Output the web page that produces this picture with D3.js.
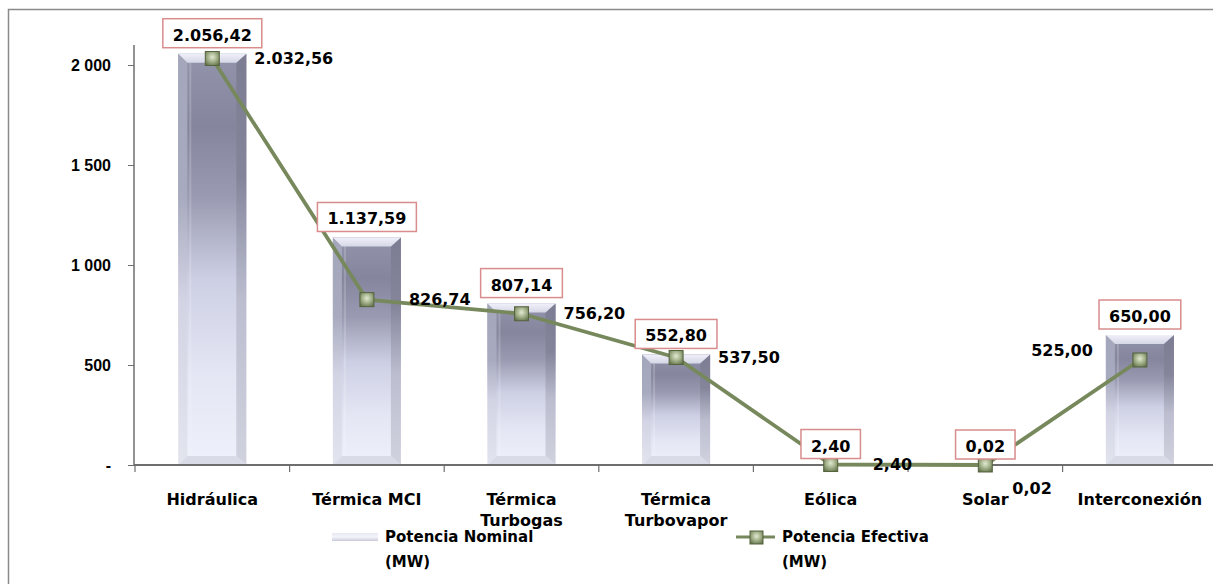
<!DOCTYPE html>
<html>
<head>
<meta charset="utf-8">
<title>Potencia Nominal y Efectiva</title>
<script src="https://d3js.org/d3.v7.min.js"></script>
<style>
  body { margin: 0; background: #fff; }
  svg { display: block; font-family: "DejaVu Sans", Verdana, sans-serif; font-weight: bold; }
</style>
</head>
<body>
<svg width="1213" height="584"></svg>
<script>

// data
var categories = ["Hidráulica", "Térmica MCI", "Térmica Turbogas", "Térmica Turbovapor", "Eólica", "Solar", "Interconexión"];
var categoryLines = [["Hidráulica"], ["Térmica MCI"], ["Térmica", "Turbogas"], ["Térmica", "Turbovapor"], ["Eólica"], ["Solar"], ["Interconexión"]];
var nominal = [2056.42, 1137.59, 807.14, 552.80, 2.40, 0.02, 650.00];
var efectiva = [2032.56, 826.74, 756.20, 537.50, 2.40, 0.02, 525.00];
var yTicks = [0, 500, 1000, 1500, 2000];
// where the value of the line sits relative to its marker
var lineLabelSide = ["right", "right", "right", "right", "right", "below", "left"];

var svg = d3.select("svg"),
    width = +svg.attr("width"),
    height = +svg.attr("height");

var es = d3.formatLocale({decimal: ",", thousands: ".", grouping: [3], currency: ["", ""]});
var fmt = es.format(",.2f");

var x = d3.scaleBand()
    .domain(categories)
    .range([135, 135 + 7 * 154.6]);

var y = d3.scaleLinear()
    .domain([0, 2000])
    .range([465, 65]);

var barW = 68;

// gradients for the bevelled bars
var defs = svg.append("defs");
function vgrad(id, stops) {
  var g = defs.append("linearGradient").attr("id", id)
      .attr("x1", 0).attr("y1", 0).attr("x2", 0).attr("y2", 1);
  stops.forEach(function(s) {
    g.append("stop").attr("offset", s[0]).attr("stop-color", s[1]);
  });
}
vgrad("panel", [[0, "#9294ab"], [0.18, "#85869d"], [0.35, "#9a9bb2"], [0.55, "#cdd0e4"], [0.78, "#e4e6f4"], [1, "#eef0fa"]]);
vgrad("leftEdge", [[0, "#a4a6bb"], [0.35, "#a8aabf"], [0.6, "#d2d4e4"], [1, "#e2e4ee"]]);
vgrad("rightEdge", [[0, "#7c7d93"], [0.3, "#84859b"], [0.6, "#bcbed0"], [1, "#d0d2de"]]);
vgrad("topFace", [[0, "#f0f0fa"], [1, "#d6d7e6"]]);
vgrad("legendBar", [[0, "#e6e7f1"], [0.5, "#f4f5fb"], [1, "#c8cad8"]]);

var mg = defs.append("radialGradient").attr("id", "marker")
    .attr("cx", "50%").attr("cy", "40%").attr("r", "70%");
mg.append("stop").attr("offset", 0).attr("stop-color", "#e2e8d2");
mg.append("stop").attr("offset", 0.45).attr("stop-color", "#a8b690");
mg.append("stop").attr("offset", 1).attr("stop-color", "#5f6e47");

// outer frame
svg.append("rect")
    .attr("x", 8.5).attr("y", 9.5)
    .attr("width", width).attr("height", height)
    .attr("fill", "none").attr("stroke", "#8a8a8a").attr("stroke-width", 1.5);

// bars
var bars = svg.append("g").selectAll("g")
  .data(nominal)
  .join("g")
    .attr("transform", function(d, i) {
      return "translate(" + (x(categories[i]) + x.bandwidth() / 2 - barW / 2) + "," + y(d) + ")";
    });

bars.each(function(d) {
  var g = d3.select(this);
  var h = y(0) - y(d);
  if (h < 3) return;
  var bev = Math.min(9, h / 4);
  var l = 9, r = 10;
  g.append("rect").attr("width", barW).attr("height", h).attr("fill", "url(#panel)");
  g.append("polygon")
      .attr("points", [[0, 0], [l, bev], [l, h - bev], [0, h]].join(" "))
      .attr("fill", "url(#leftEdge)");
  g.append("polygon")
      .attr("points", [[barW, 0], [barW - r, bev], [barW - r, h - bev], [barW, h]].join(" "))
      .attr("fill", "url(#rightEdge)");
  g.append("polygon")
      .attr("points", [[0, 0], [barW, 0], [barW - r, bev], [l, bev]].join(" "))
      .attr("fill", "url(#topFace)");
  g.append("polygon")
      .attr("points", [[0, h], [l, h - bev], [barW - r, h - bev], [barW, h]].join(" "))
      .attr("fill", "#d9dbe7");
  g.append("line")
      .attr("x1", l + 3).attr("x2", l + 3).attr("y1", bev).attr("y2", h - bev)
      .attr("stroke", "#ffffff").attr("stroke-opacity", 0.18).attr("stroke-width", 2);
});

// y axis
var yAxis = svg.append("g")
    .attr("transform", "translate(134,0)")
    .call(d3.axisLeft(y)
      .tickValues(yTicks)
      .tickSize(6)
      .tickPadding(17)
      .tickFormat(function(d) { return d === 0 ? "-" : d3.format(",")(d).replace(/,/g, " "); }));
yAxis.select(".domain").attr("stroke", "#6e6e6e").attr("stroke-width", 1.5).attr("d", "M0," + y(2100) + "V" + y(0));
yAxis.selectAll(".tick line").attr("stroke", "#6e6e6e");
yAxis.selectAll("text").attr("font-size", 16).attr("font-family", null).attr("fill", "#000");

// x axis
var xg = svg.append("g").attr("transform", "translate(0," + y(0) + ")");
xg.append("line")
    .attr("x1", 134).attr("x2", width)
    .attr("stroke", "#6e6e6e").attr("stroke-width", 2);
xg.selectAll(".xtick")
  .data(d3.range(categories.length + 1))
  .join("line")
    .attr("x1", function(i) { return x.range()[0] + i * x.step(); })
    .attr("x2", function(i) { return x.range()[0] + i * x.step(); })
    .attr("y1", 0).attr("y2", 7)
    .attr("stroke", "#6e6e6e").attr("stroke-width", 1.2);
xg.selectAll(".xlab")
  .data(categoryLines)
  .join("text")
    .attr("text-anchor", "middle")
    .attr("font-size", 16)
    .attr("y", 40)
    .each(function(lines, i) {
      var t = d3.select(this);
      lines.forEach(function(s, k) {
        t.append("tspan")
            .attr("x", x(categories[i]) + x.bandwidth() / 2)
            .attr("dy", k === 0 ? 0 : 21)
            .text(s);
      });
    });

// line series
var cx = function(d, i) { return x(categories[i]) + x.bandwidth() / 2; };
var line = d3.line()
    .x(function(d, i) { return cx(d, i); })
    .y(function(d) { return y(d); });

svg.append("path")
    .datum(efectiva)
    .attr("fill", "none")
    .attr("stroke", "#77895c")
    .attr("stroke-width", 3.8)
    .attr("stroke-linejoin", "round")
    .attr("d", line);

svg.append("g").selectAll("rect")
  .data(efectiva)
  .join("rect")
    .attr("x", function(d, i) { return cx(d, i) - 7; })
    .attr("y", function(d) { return y(d) - 7; })
    .attr("width", 14).attr("height", 14)
    .attr("fill", "url(#marker)")
    .attr("stroke", "#55633e").attr("stroke-width", 1);

// nominal labels in red boxes
var nomLab = svg.append("g").selectAll("g")
  .data(nominal)
  .join("g")
    .attr("transform", function(d, i) { return "translate(" + cx(d, i) + "," + (y(d) - 13) + ")"; });
nomLab.append("text")
    .attr("text-anchor", "middle")
    .attr("font-size", 16)
    .text(function(d) { return fmt(d); });
nomLab.insert("rect", "text")
    .each(function() {
      var bb = this.parentNode.querySelector("text").getBBox();
      d3.select(this)
          .attr("x", bb.x - 10).attr("y", -22)
          .attr("width", bb.width + 20).attr("height", 29);
    })
    .attr("fill", "#fff")
    .attr("stroke", "#d98c8c")
    .attr("stroke-width", 1.5);

// efectiva labels
svg.append("g").selectAll("text")
  .data(efectiva)
  .join("text")
    .attr("font-size", 16)
    .attr("dy", "0.35em")
    .attr("text-anchor", function(d, i) { return lineLabelSide[i] === "left" ? "end" : "start"; })
    .attr("x", function(d, i) {
      var s = lineLabelSide[i];
      return cx(d, i) + (s === "left" ? -47 : s === "below" ? 27 : 42);
    })
    .attr("y", function(d, i) {
      var s = lineLabelSide[i];
      return y(d) + (s === "left" ? -10 : s === "below" ? 23 : 0);
    })
    .text(function(d) { return fmt(d); });

// legend
var leg = svg.append("g").attr("font-size", 15);
leg.append("rect")
    .attr("x", 332).attr("y", 533).attr("width", 46).attr("height", 8)
    .attr("fill", "url(#legendBar)");
leg.append("text").attr("x", 385).attr("y", 542).text("Potencia Nominal");
leg.append("text").attr("x", 385).attr("y", 567).text("(MW)");

leg.append("line")
    .attr("x1", 736).attr("x2", 775).attr("y1", 537).attr("y2", 537)
    .attr("stroke", "#77895c").attr("stroke-width", 3);
leg.append("rect")
    .attr("x", 750).attr("y", 531).attr("width", 13).attr("height", 13)
    .attr("fill", "url(#marker)").attr("stroke", "#55633e");
leg.append("text").attr("x", 782).attr("y", 542).text("Potencia Efectiva");
leg.append("text").attr("x", 782).attr("y", 567).text("(MW)");

</script>
</body>
</html>
